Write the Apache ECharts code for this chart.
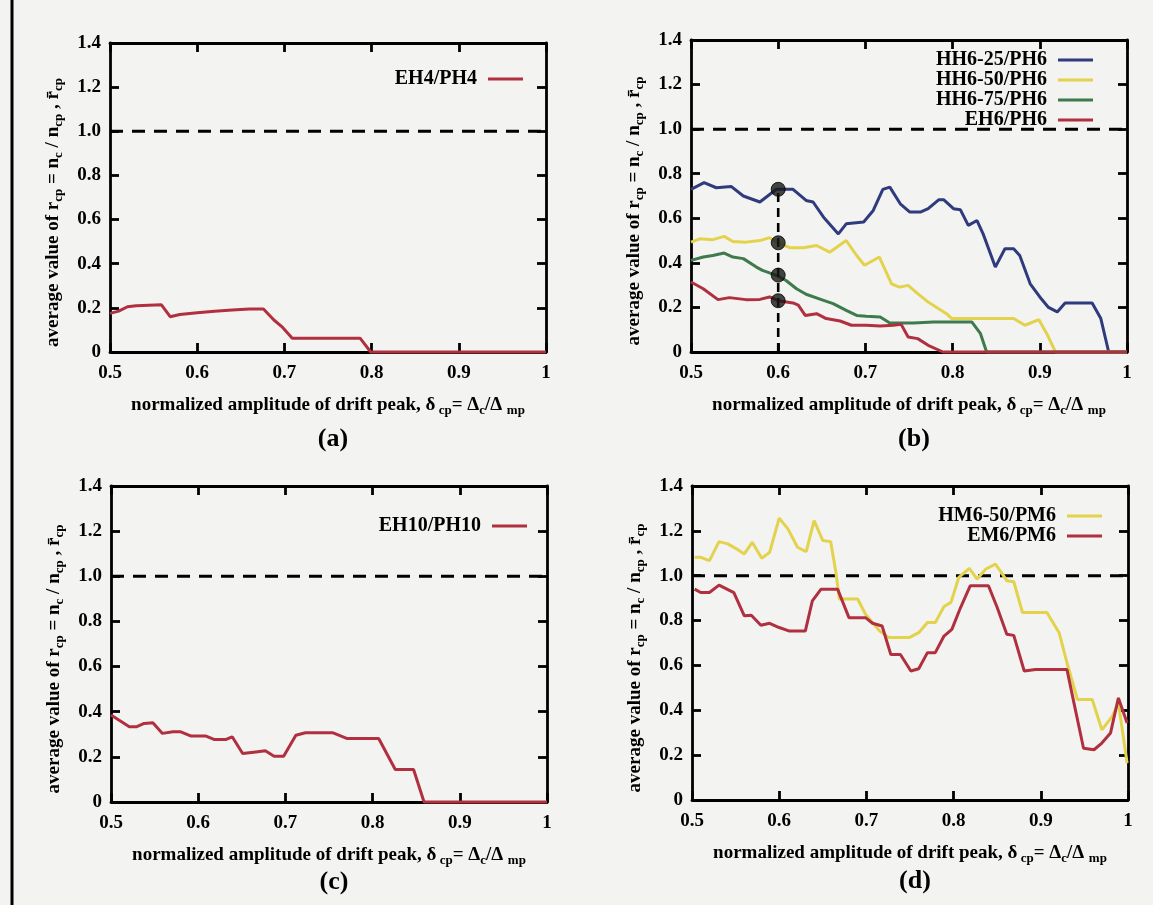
<!DOCTYPE html>
<html>
<head>
<meta charset="utf-8">
<script src="https://cdn.jsdelivr.net/npm/echarts@6/dist/echarts.min.js"></script>
<style>
html,body{margin:0;padding:0;background:#f3f3f1;}
#c{width:1153px;height:905px;}
</style>
</head>
<body>
<div id="c"></div>
<script>
// ---- Panel (a): EH4/PH4 ----
const aX = [0.5, 0.51, 0.52, 0.53, 0.559, 0.569, 0.58, 0.6, 0.62, 0.64, 0.66, 0.676, 0.688, 0.697, 0.709, 0.787, 0.799, 1.0];
const aY = [0.175, 0.185, 0.205, 0.21, 0.214, 0.16, 0.17, 0.178, 0.185, 0.19, 0.195, 0.195, 0.145, 0.115, 0.062, 0.062, 0, 0];

// ---- Panel (b) ----
const b25X = [0.5,0.515,0.529,0.546,0.56,0.579,0.598,0.617,0.632,0.64,0.652,0.669,0.678,0.698,0.709,0.72,0.728,0.74,0.751,0.763,0.772,0.784,0.79,0.801,0.809,0.818,0.828,0.835,0.849,0.86,0.87,0.877,0.889,0.9,0.91,0.92,0.929,0.946,0.96,0.97,0.979,1.0];
const b25Y = [0.73,0.76,0.737,0.743,0.70,0.673,0.73,0.73,0.68,0.673,0.605,0.53,0.575,0.583,0.635,0.73,0.74,0.665,0.628,0.628,0.643,0.683,0.683,0.643,0.638,0.568,0.59,0.53,0.381,0.463,0.463,0.433,0.306,0.247,0.2,0.18,0.22,0.22,0.22,0.15,0,0];
const b50X = [0.5,0.51,0.525,0.538,0.548,0.563,0.579,0.59,0.6,0.613,0.629,0.644,0.659,0.678,0.69,0.699,0.716,0.73,0.739,0.749,0.76,0.772,0.784,0.793,0.799,0.826,0.87,0.883,0.899,0.908,0.918,1.0];
const b50Y = [0.493,0.508,0.504,0.519,0.496,0.493,0.5,0.513,0.49,0.468,0.468,0.478,0.448,0.5,0.433,0.389,0.426,0.306,0.291,0.299,0.262,0.224,0.194,0.172,0.15,0.15,0.15,0.12,0.145,0.082,0,0];
const b75X = [0.5,0.514,0.525,0.538,0.548,0.56,0.575,0.582,0.598,0.609,0.621,0.632,0.652,0.663,0.678,0.69,0.701,0.717,0.728,0.755,0.778,0.822,0.832,0.839,1.0];
const b75Y = [0.411,0.426,0.433,0.444,0.426,0.419,0.381,0.366,0.344,0.321,0.284,0.259,0.232,0.217,0.187,0.164,0.16,0.157,0.13,0.13,0.135,0.135,0.082,0,0];
const bEX = [0.5,0.514,0.531,0.544,0.563,0.579,0.59,0.6,0.617,0.623,0.631,0.644,0.655,0.671,0.684,0.701,0.717,0.732,0.741,0.749,0.76,0.772,0.789,1.0];
const bEY = [0.314,0.284,0.235,0.244,0.235,0.236,0.247,0.23,0.22,0.21,0.164,0.172,0.15,0.139,0.12,0.12,0.117,0.12,0.124,0.067,0.06,0.03,0,0];
const bMarkY = [0.73, 0.49, 0.345, 0.23];
const bMarkX = 0.6;

// ---- Panel (c): EH10/PH10 ----
const cX = [0.5,0.521,0.529,0.538,0.548,0.559,0.571,0.58,0.592,0.609,0.618,0.632,0.639,0.651,0.666,0.677,0.687,0.698,0.712,0.723,0.754,0.771,0.807,0.826,0.847,0.859,1.0];
const cY = [0.385,0.333,0.333,0.348,0.351,0.304,0.311,0.311,0.292,0.292,0.277,0.277,0.289,0.215,0.222,0.227,0.203,0.203,0.296,0.307,0.307,0.281,0.281,0.144,0.144,0,0];

// ---- Panel (d) ----
const dHX = [0.503,0.51,0.52,0.531,0.541,0.55,0.56,0.569,0.58,0.589,0.6,0.61,0.621,0.631,0.64,0.65,0.659,0.665,0.669,0.68,0.69,0.699,0.715,0.726,0.749,0.76,0.77,0.779,0.789,0.797,0.806,0.818,0.827,0.837,0.848,0.856,0.861,0.869,0.879,0.907,0.921,0.93,0.942,0.959,0.97,0.982,0.989,0.999];
const dHY = [1.082,1.082,1.067,1.152,1.142,1.122,1.097,1.149,1.078,1.104,1.257,1.209,1.127,1.107,1.246,1.157,1.152,1.015,0.896,0.896,0.896,0.828,0.754,0.724,0.724,0.746,0.791,0.791,0.863,0.881,0.993,1.033,0.985,1.03,1.052,1.007,0.978,0.973,0.836,0.836,0.746,0.612,0.448,0.448,0.313,0.373,0.433,0.164];
const dEX = [0.503,0.51,0.52,0.531,0.548,0.56,0.568,0.579,0.589,0.6,0.611,0.63,0.638,0.648,0.667,0.68,0.699,0.707,0.718,0.728,0.739,0.751,0.76,0.77,0.779,0.789,0.798,0.808,0.819,0.84,0.85,0.861,0.869,0.881,0.894,0.93,0.938,0.949,0.961,0.97,0.98,0.989,0.999];
const dEY = [0.94,0.925,0.925,0.958,0.925,0.821,0.824,0.779,0.788,0.769,0.754,0.754,0.888,0.94,0.94,0.813,0.813,0.788,0.776,0.649,0.649,0.575,0.585,0.657,0.657,0.731,0.761,0.858,0.955,0.955,0.858,0.739,0.734,0.575,0.582,0.582,0.433,0.231,0.224,0.254,0.299,0.455,0.343];

const panelLabels = ['(a)', '(b)', '(c)', '(d)'];

const C_RED = '#b0303f', C_YEL = '#e3d24c', C_BLUE = '#2f3b7c', C_GRN = '#3f7a4c';
const F = '"Liberation Serif", "DejaVu Serif", serif';

const grids = [
  {left: 110, top: 43, width: 436, height: 309},
  {left: 691, top: 40, width: 436, height: 312},
  {left: 111, top: 486, width: 436, height: 316},
  {left: 692, top: 486, width: 436, height: 314}
];

const subS = {fontSize: 13, fontWeight: 'bold', fontFamily: F, color: '#000', verticalAlign: 'bottom', lineHeight: 9};
const norS = {fontSize: 19, fontWeight: 'bold', fontFamily: F, color: '#000', lineHeight: 23};
const xName = '{n|normalized amplitude of drift peak, δ}{s| cp}{n|= Δ}{s|c}{n|/Δ }{s|mp}';
const yName = '{n|average value of r}{s|cp}{n| = n}{s|c}{n| / n}{s|cp}{n| , r̄}{s|cp}';

const axLine = {show: true, onZero: false, lineStyle: {color: '#000', width: 2.8}};
const axTick = {show: true, inside: true, length: 9, lineStyle: {color: '#000', width: 2.8}};
const lblStyle = {fontFamily: F, fontWeight: 'bold', fontSize: 19, color: '#000'};

const xAxes = [], yAxes = [];
for (let g = 0; g < 4; g++) {
  xAxes.push({
    type: 'value', gridIndex: g, min: 0.5, max: 1, interval: 0.1, position: 'bottom',
    axisLine: axLine, axisTick: axTick, splitLine: {show: false},
    axisLabel: Object.assign({margin: 12, formatter: v => v > 0.999 ? '1' : v.toFixed(1)}, lblStyle),
    name: xName, nameLocation: 'middle', nameGap: 42,
    nameTextStyle: {rich: {n: norS, s: subS}}
  });
  yAxes.push({
    type: 'value', gridIndex: g, min: 0, max: 1.4, interval: 0.2, position: 'left',
    axisLine: axLine, axisTick: axTick, splitLine: {show: false},
    axisLabel: Object.assign({margin: 9, formatter: v => v < 1e-9 ? '0' : v.toFixed(1)}, lblStyle),
    name: yName, nameLocation: 'middle', nameGap: 45, nameRotate: 90,
    nameTextStyle: {rich: {n: norS, s: subS}, padding: [0, 30, 0, 0]}
  });
}
for (let g = 0; g < 4; g++) {
  xAxes.push({
    type: 'value', gridIndex: g, min: 0.5, max: 1, interval: 0.1, position: 'top',
    axisLine: axLine, axisTick: axTick, splitLine: {show: false}, axisLabel: {show: false}
  });
  yAxes.push({
    type: 'value', gridIndex: g, min: 0, max: 1.4, interval: 0.2, position: 'right',
    axisLine: axLine, axisTick: axTick, splitLine: {show: false}, axisLabel: {show: false}
  });
}

function zip(xs, ys) { return xs.map((x, i) => [x, ys[i]]); }
function line(name, xs, ys, color, g, z) {
  return {
    type: 'line', name: name, xAxisIndex: g, yAxisIndex: g, data: zip(xs, ys),
    symbol: 'none', showSymbol: false, clip: false, z: z || 3,
    lineStyle: {color: color, width: 3}, itemStyle: {color: color}
  };
}
function refLine(g) {
  return {
    type: 'line', name: 'ref' + g, xAxisIndex: g, yAxisIndex: g, data: [[0.5, 1], [1, 1]],
    symbol: 'none', z: 2, silent: true,
    lineStyle: {color: '#000', width: 3, type: [13, 9]}
  };
}

const series = [
  refLine(0), refLine(1), refLine(2), refLine(3),
  line('EH4/PH4', aX, aY, C_RED, 0),
  line('HH6-25/PH6', b25X, b25Y, C_BLUE, 1),
  line('HH6-50/PH6', b50X, b50Y, C_YEL, 1),
  line('HH6-75/PH6', b75X, b75Y, C_GRN, 1),
  line('EH6/PH6', bEX, bEY, C_RED, 1, 4),
  {
    type: 'line', name: 'vline', xAxisIndex: 1, yAxisIndex: 1,
    data: [[bMarkX, 0], [bMarkX, bMarkY[0]]], symbol: 'none', z: 5, silent: true,
    lineStyle: {color: '#000', width: 2.6, type: [9, 6]}
  },
  {
    type: 'scatter', name: 'marks', xAxisIndex: 1, yAxisIndex: 1,
    data: bMarkY.map(v => [bMarkX, v]), symbol: 'circle', symbolSize: 14, z: 6,
    itemStyle: {color: '#161816', borderColor: '#000', borderWidth: 1}
  },
  line('EH10/PH10', cX, cY, C_RED, 2),
  line('HM6-50/PM6', dHX, dHY, C_YEL, 3),
  line('EM6/PM6', dEX, dEY, C_RED, 3, 4)
];

function legend(names, right, top) {
  return {
    data: names, orient: 'vertical', align: 'right', right: right, top: top, padding: 0,
    icon: 'rect', itemWidth: 35, itemHeight: 3, itemGap: 0,
    textStyle: {fontFamily: F, fontWeight: 'bold', fontSize: 20, color: '#000', lineHeight: 18, padding: [0, 6, 0, 0]},
    selectedMode: false
  };
}

const titles = panelLabels.map((t, i) => ({
  text: t, left: [328, 909, 329, 910][i], top: [421, 421, 864, 863][i], textAlign: 'center',
  textStyle: {fontFamily: F, fontWeight: 'bold', fontSize: 26, color: '#000'}
}));

const option = {
  backgroundColor: '#f3f3f1',
  animation: false,
  title: titles,
  grid: grids,
  xAxis: xAxes,
  yAxis: yAxes,
  legend: [
    legend(['EH4/PH4'], 630, 69),
    legend(['HH6-25/PH6', 'HH6-50/PH6', 'HH6-75/PH6', 'EH6/PH6'], 60, 50),
    legend(['EH10/PH10'], 626, 516),
    legend(['HM6-50/PM6', 'EM6/PM6'], 51, 506)
  ],
  graphic: [
    {type: 'line', shape: {x1: 12, y1: 0, x2: 12, y2: 905}, style: {stroke: '#000', lineWidth: 3}}
  ],
  series: series
};

const chart = echarts.init(document.getElementById('c'), null, {renderer: 'canvas'});
chart.setOption(option);
</script>
</body>
</html>
